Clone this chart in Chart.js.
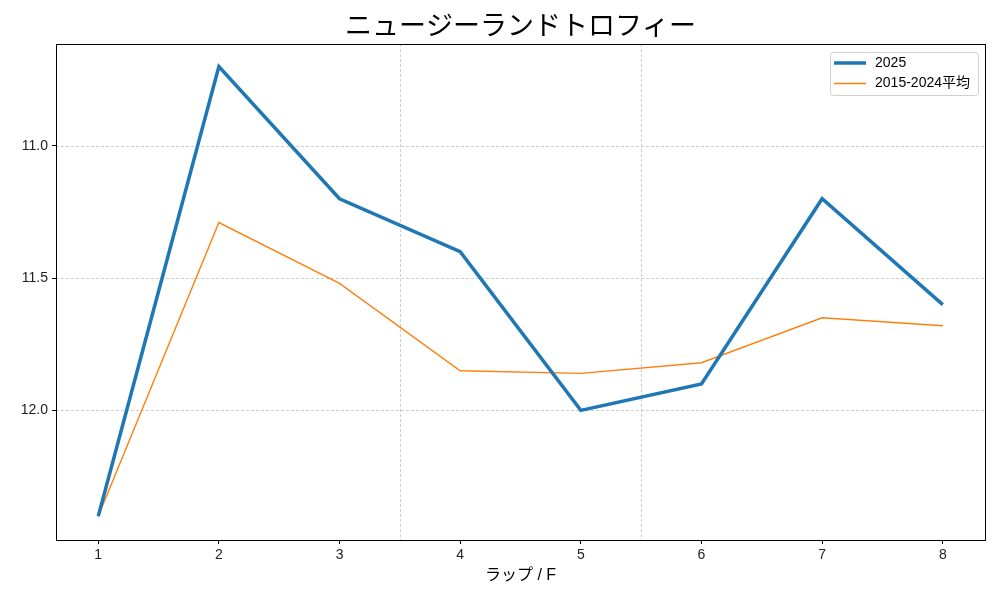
<!DOCTYPE html>
<html>
<head>
<meta charset="utf-8">
<script src="https://cdn.jsdelivr.net/npm/chart.js@4"></script>
<style>
  html, body { margin: 0; padding: 0; background: #fff; }
  #wrap { width: 1000px; height: 600px; }
</style>
</head>
<body>
<div id="wrap"><canvas id="lapChart" width="1000" height="600"></canvas></div>
<script>
const chartTitle = 'ニュージーランドトロフィー';
const xAxisTitle = 'ラップ / F';
const laps = [1, 2, 3, 4, 5, 6, 7, 8];
const lap2025 = [12.4, 10.7, 11.2, 11.4, 12.0, 11.9, 11.2, 11.6];
const lapAverage = [12.4, 11.29, 11.52, 11.85, 11.86, 11.82, 11.65, 11.68];
const yTicks = [11.0, 11.5, 12.0];
const sectionBreaks = [3.5, 5.5];
const FONT = '"Liberation Sans", "Noto Sans CJK JP", sans-serif';

// grid, frame, title and legend drawn by hand (matplotlib look)
const framePlugin = {
    id: 'frame',
    beforeDatasetsDraw(chart) {
        const { ctx, chartArea: a, scales: { x, y } } = chart;
        ctx.save();
        ctx.strokeStyle = '#b8b8b8';
        ctx.lineWidth = 0.7;
        ctx.setLineDash([3, 2]);
        ctx.beginPath();
        yTicks.forEach(v => {
            const py = Math.round(y.getPixelForValue(v)) + 0.5;
            ctx.moveTo(a.left, py);
            ctx.lineTo(a.right, py);
        });
        sectionBreaks.forEach(v => {
            const px = Math.round(x.getPixelForValue(v)) + 0.5;
            ctx.moveTo(px, a.top);
            ctx.lineTo(px, a.bottom);
        });
        ctx.stroke();
        ctx.restore();
    },
    afterDraw(chart) {
        const { ctx, chartArea: a } = chart;
        ctx.save();
        ctx.strokeStyle = '#000';
        ctx.lineWidth = 1;
        ctx.strokeRect(Math.round(a.left) + 0.5, Math.round(a.top) + 0.5,
            Math.round(a.right - a.left), Math.round(a.bottom - a.top));

        // title
        ctx.fillStyle = '#000';
        ctx.font = '27px ' + FONT;
        ctx.textAlign = 'center';
        ctx.textBaseline = 'middle';
        ctx.fillText(chartTitle, (a.left + a.right) / 2, 28);

        // legend
        ctx.font = '14px ' + FONT;
        const sets = chart.data.datasets;
        const textW = Math.max(...sets.map(d => ctx.measureText(d.label).width));
        const boxW = 3 + 32 + 10 + textW + 8;
        const boxH = 43;
        const bx = a.right - 7 - boxW;
        const by = a.top + 8;
        ctx.beginPath();
        ctx.roundRect(bx + 0.5, by + 0.5, boxW, boxH, 3);
        ctx.fillStyle = 'rgba(255,255,255,0.8)';
        ctx.fill();
        ctx.strokeStyle = '#d0d0d0';
        ctx.stroke();
        ctx.textAlign = 'left';
        sets.forEach((d, i) => {
            const ry = by + 11 + i * 20.5;
            ctx.strokeStyle = d.borderColor;
            ctx.lineWidth = d.borderWidth;
            ctx.beginPath();
            ctx.moveTo(bx + 4, ry);
            ctx.lineTo(bx + 36, ry);
            ctx.stroke();
            ctx.fillStyle = '#000';
            ctx.fillText(d.label, bx + 45, ry);
        });
        ctx.restore();
    }
};

const toPoints = vals => laps.map((lap, i) => ({ x: lap, y: vals[i] }));

new Chart(document.getElementById('lapChart'), {
    type: 'line',
    data: {
        datasets: [{
            label: '2025',
            data: toPoints(lap2025),
            borderColor: '#1f77b4',
            borderWidth: 3.5,
            pointRadius: 0,
            tension: 0,
            fill: false,
        }, {
            label: '2015-2024平均',
            data: toPoints(lapAverage),
            borderColor: '#ff7f0e',
            borderWidth: 1.4,
            pointRadius: 0,
            tension: 0,
            fill: false,
        }]
    },
    options: {
        responsive: false,
        animation: false,
        layout: { padding: { top: 44, right: 15, bottom: 0, left: 0 } },
        plugins: {
            legend: { display: false },
            title: { display: false },
            tooltip: { enabled: false },
        },
        scales: {
            x: {
                type: 'linear',
                min: 0.65,
                max: 8.35,
                afterBuildTicks: scale => { scale.ticks = laps.map(v => ({ value: v })); },
                afterFit: scale => { scale.height = 60; },
                grid: { drawOnChartArea: false, tickLength: 4, color: '#000' },
                border: { display: false },
                ticks: { color: '#222', padding: 3, font: { family: FONT, size: 14 }, callback: v => v },
                title: { display: true, text: xAxisTitle, color: '#000',
                    font: { family: FONT, size: 16 }, padding: { top: 0, bottom: 15 } },
            },
            y: {
                reverse: true,
                min: 10.615,
                max: 12.49,
                afterBuildTicks: scale => { scale.ticks = yTicks.map(v => ({ value: v })); },
                afterFit: scale => { scale.width = 56; },
                grid: { drawOnChartArea: false, tickLength: 4, color: '#000' },
                border: { display: false },
                ticks: { color: '#222', padding: 4, font: { family: FONT, size: 14 }, callback: v => v.toFixed(1) },
            }
        }
    },
    plugins: [framePlugin]
});
</script>
</body>
</html>
